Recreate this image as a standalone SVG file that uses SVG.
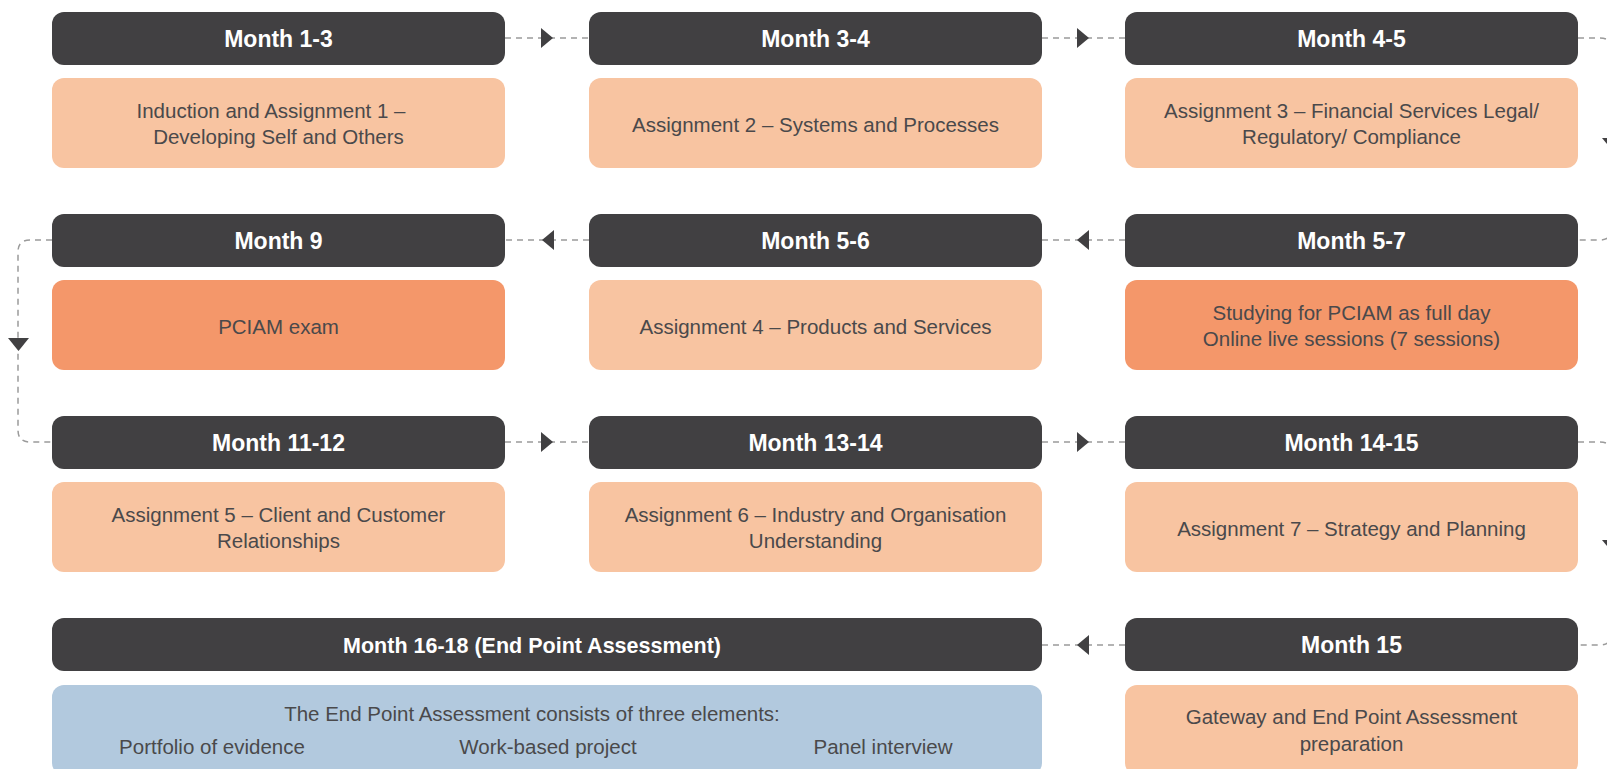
<svg xmlns="http://www.w3.org/2000/svg" width="1607" height="769" viewBox="0 0 1607 769">
<style>
.hd{fill:#414042}
.pe{fill:#F8C4A1}
.or{fill:#F4976A}
.bl{fill:#B2C9DE}
.ht{font-family:"Liberation Sans",Arial,sans-serif;font-weight:bold;font-size:23px;fill:#ffffff;text-anchor:middle}
.bt{font-family:"Liberation Sans",Arial,sans-serif;font-size:20.5px;fill:#4a494b;text-anchor:middle}
.cn{fill:none;stroke:#9a9a9a;stroke-width:1.5;stroke-dasharray:6 5}
.ar{fill:#414042}
</style>
<rect width="1607" height="769" fill="#ffffff"/>
<g id="connectors">
<path class="cn" d="M505 38H589"/>
<polygon class="ar" points="541,28 553,38 541,48"/>
<path class="cn" d="M1042 38H1125"/>
<polygon class="ar" points="1077,28 1089,38 1077,48"/>
<path class="cn" d="M1578 38H1600Q1612 38 1612 50V228Q1612 240 1600 240H1578"/>
<polygon class="ar" points="1602,138 1622,138 1612,150"/>
<path class="cn" d="M1125 240H1042"/>
<polygon class="ar" points="1089,230 1077,240 1089,250"/>
<path class="cn" d="M589 240H505"/>
<polygon class="ar" points="554,230 542,240 554,250"/>
<path class="cn" d="M52 240H30Q18 240 18 252V430Q18 442 30 442H52"/>
<polygon class="ar" points="8,338 29,338 18.5,351"/>
<path class="cn" d="M505 442H589"/>
<polygon class="ar" points="541,432 553,442 541,452"/>
<path class="cn" d="M1042 442H1125"/>
<polygon class="ar" points="1077,432 1089,442 1077,452"/>
<path class="cn" d="M1578 442H1600Q1612 442 1612 454V633Q1612 645 1600 645H1578"/>
<polygon class="ar" points="1602,540 1622,540 1612,552"/>
<path class="cn" d="M1125 645H1042"/>
<polygon class="ar" points="1089,635 1077,645 1089,655"/>
</g>
<g id="n1">
<rect class="hd" x="52" y="12" width="453" height="53" rx="12"/>
<text class="ht" x="278.5" y="47">Month 1-3</text>
<rect class="pe" x="52" y="78" width="453" height="90" rx="12"/>
<text class="bt" x="271" y="118">Induction and Assignment 1 –</text>
<text class="bt" x="278.5" y="144">Developing Self and Others</text>
</g>
<g id="n2">
<rect class="hd" x="589" y="12" width="453" height="53" rx="12"/>
<text class="ht" x="815.5" y="47">Month 3-4</text>
<rect class="pe" x="589" y="78" width="453" height="90" rx="12"/>
<text class="bt" x="815.5" y="132">Assignment 2 – Systems and Processes</text>
</g>
<g id="n3">
<rect class="hd" x="1125" y="12" width="453" height="53" rx="12"/>
<text class="ht" x="1351.5" y="47">Month 4-5</text>
<rect class="pe" x="1125" y="78" width="453" height="90" rx="12"/>
<text class="bt" x="1351.5" y="118">Assignment 3 – Financial Services Legal/</text>
<text class="bt" x="1351.5" y="144">Regulatory/ Compliance</text>
</g>
<g id="n4">
<rect class="hd" x="1125" y="214" width="453" height="53" rx="12"/>
<text class="ht" x="1351.5" y="249">Month 5-7</text>
<rect class="or" x="1125" y="280" width="453" height="90" rx="12"/>
<text class="bt" x="1351.5" y="320">Studying for PCIAM as full day</text>
<text class="bt" x="1351.5" y="346">Online live sessions (7 sessions)</text>
</g>
<g id="n5">
<rect class="hd" x="589" y="214" width="453" height="53" rx="12"/>
<text class="ht" x="815.5" y="249">Month 5-6</text>
<rect class="pe" x="589" y="280" width="453" height="90" rx="12"/>
<text class="bt" x="815.5" y="334">Assignment 4 – Products and Services</text>
</g>
<g id="n6">
<rect class="hd" x="52" y="214" width="453" height="53" rx="12"/>
<text class="ht" x="278.5" y="249">Month 9</text>
<rect class="or" x="52" y="280" width="453" height="90" rx="12"/>
<text class="bt" x="278.5" y="334">PCIAM exam</text>
</g>
<g id="n7">
<rect class="hd" x="52" y="416" width="453" height="53" rx="12"/>
<text class="ht" x="278.5" y="451">Month 11-12</text>
<rect class="pe" x="52" y="482" width="453" height="90" rx="12"/>
<text class="bt" x="278.5" y="522">Assignment 5 – Client and Customer</text>
<text class="bt" x="278.5" y="548">Relationships</text>
</g>
<g id="n8">
<rect class="hd" x="589" y="416" width="453" height="53" rx="12"/>
<text class="ht" x="815.5" y="451">Month 13-14</text>
<rect class="pe" x="589" y="482" width="453" height="90" rx="12"/>
<text class="bt" x="815.5" y="522">Assignment 6 – Industry and Organisation</text>
<text class="bt" x="815.5" y="548">Understanding</text>
</g>
<g id="n9">
<rect class="hd" x="1125" y="416" width="453" height="53" rx="12"/>
<text class="ht" x="1351.5" y="451">Month 14-15</text>
<rect class="pe" x="1125" y="482" width="453" height="90" rx="12"/>
<text class="bt" x="1351.5" y="536">Assignment 7 – Strategy and Planning</text>
</g>
<g id="n10">
<rect class="hd" x="1125" y="618" width="453" height="53" rx="12"/>
<text class="ht" x="1351.5" y="653">Month 15</text>
<rect class="pe" x="1125" y="685" width="453" height="90" rx="12"/>
<text class="bt" x="1351.5" y="724">Gateway and End Point Assessment</text>
<text class="bt" x="1351.5" y="751">preparation</text>
</g>
<g id="n11">
<rect class="hd" x="52" y="618" width="990" height="53" rx="12"/>
<text class="ht" x="532" y="653" style="font-size:21.5px">Month 16-18 (End Point Assessment)</text>
<rect class="bl" x="52" y="685" width="990" height="90" rx="12"/>
<text class="bt" x="532" y="721">The End Point Assessment consists of three elements:</text>
<text class="bt" x="212" y="754">Portfolio of evidence</text>
<text class="bt" x="548" y="754">Work-based project</text>
<text class="bt" x="883" y="754">Panel interview</text>
</g>
</svg>
